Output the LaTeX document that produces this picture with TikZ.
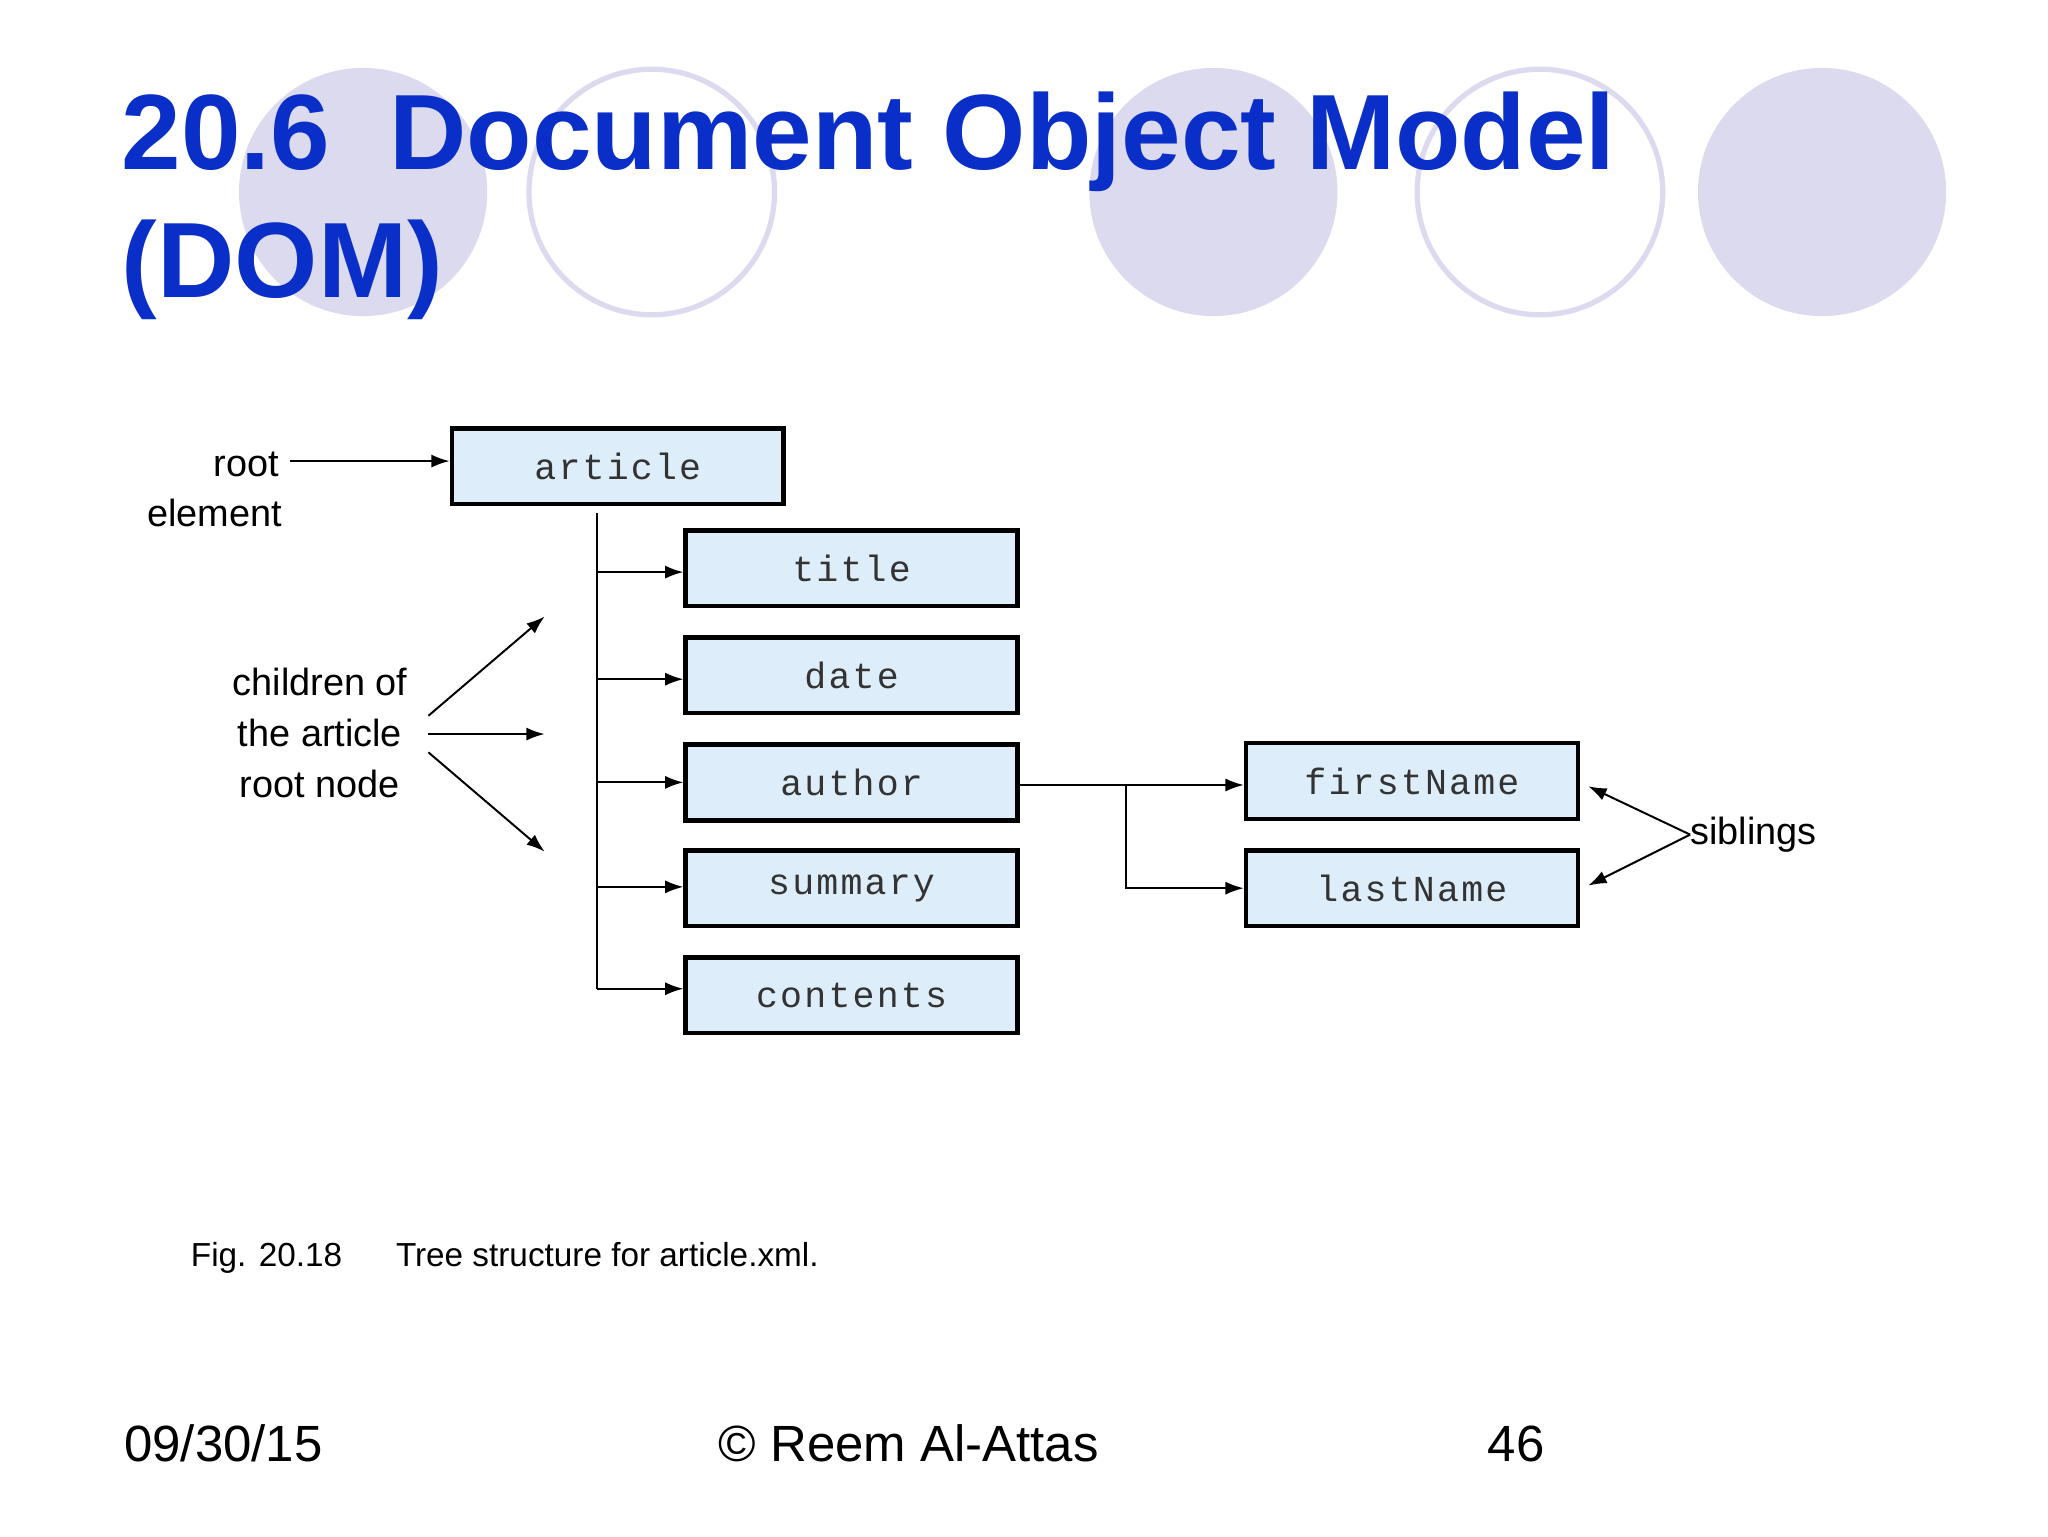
\documentclass[tikz,border=0pt]{standalone}
\usepackage{fontspec}
\setmainfont{Liberation Sans}
\setmonofont{Liberation Mono}
\usetikzlibrary{arrows.meta}
\definecolor{lav}{HTML}{DCDAEE}
\definecolor{ttl}{HTML}{0A2FC8}
\definecolor{boxfill}{HTML}{DDEEFA}
\tikzset{
  tbox/.style={draw=black,line width=3.5pt,fill=boxfill,minimum width=254pt,minimum height=58pt,inner sep=0pt,text=black!80,font=\fontsize{28}{30}\selectfont\ttfamily\addfontfeatures{LetterSpace=6}},
  arr/.style={line width=1.5pt,-{Latex[length=14pt,width=10pt]}},
  ln/.style={line width=1.5pt},
  lbl/.style={font=\fontsize{29}{39}\selectfont,inner sep=0pt}
}
\begin{document}
\begin{tikzpicture}[x=1pt,y=-1pt]
\useasboundingbox[fill=white] (0,0) rectangle (1568,1176);
\fill[lav] (278,147) circle (95);
\draw[lav,line width=4pt] (499,147) circle (94);
\fill[lav] (929,147) circle (95);
\draw[lav,line width=4pt] (1179,147) circle (94);
\fill[lav] (1395,147) circle (95);
\node[anchor=base west,inner sep=0pt,text=ttl,font=\fontsize{82}{90}\selectfont\bfseries] (t1) at (93,130) {20.6\ \ Document Object Model};
\node[anchor=base west,inner sep=0pt,text=ttl,font=\fontsize{82}{90}\selectfont\bfseries] (t2) at (93,228) {(DOM)};
\node[tbox] (article) at (473,357) {article};
\node[tbox] (title) at (652,435) {title};
\node[tbox] (date) at (652,517) {date};
\node[tbox] (author) at (652,599) {author};
\node[tbox] (summary) at (652,680) {summary};
\node[tbox] (contents) at (652,762) {contents};
\node[tbox] (first) at (1081,598) {firstName};
\node[tbox] (last) at (1081,680) {lastName};
\coordinate (top) at (457,393);
\coordinate (bot) at (457,757);
\draw[ln] (top) -- (bot);
\foreach \n/\y in {title/438,date/520,author/599,summary/679} \draw[arr] (457,\y) -- (\n.west|-0,\y);
\draw[arr] (bot) -- (contents.west|-bot);
\coordinate (br) at (862,601);
\draw[arr] (author.east|-br) -- (first.west|-br);
\draw[arr] (br) |- (last.west);
\node[lbl,anchor=base east] (root) at (214,365) {root};
\node[lbl,anchor=base east] (elem) at (216,403) {element};
\draw[arr] (222,353) -- (article.west|-0,353);
\node[lbl,align=center,anchor=north] (ch) at (245,511) {children of\\the article\\root node};
\coordinate (c1) at (417,472);\coordinate (c2) at (417,562);\coordinate (c3) at (417,652);
\draw[arr] (328,548) -- (c1);
\draw[arr] (328,562) -- (c2);
\draw[arr] (328,576) -- (c3);
\node[lbl,anchor=west] (sib) at (1294,639) {siblings};
\coordinate (s1) at (1216,602);\coordinate (s2) at (1216,678);
\draw[arr] (sib.west) -- (s1);
\draw[arr] (sib.west) -- (s2);
\node[anchor=base west,inner sep=0pt,font=\fontsize{25.5}{30}\selectfont] (fig) at (146,970) {Fig. 20.18};
\node[anchor=base west,inner sep=0pt,font=\fontsize{25.5}{30}\selectfont] (cap) at (303,970) {Tree structure for article.xml.};
\node[anchor=base west,inner sep=0pt,font=\fontsize{39}{44}\selectfont] (d) at (95,1119) {09/30/15};
\node[anchor=base west,inner sep=0pt,font=\fontsize{39}{44}\selectfont] (c) at (550,1119) {© Reem Al-Attas};
\node[anchor=base west,inner sep=0pt,font=\fontsize{39}{44}\selectfont] (p) at (1139,1119) {46};
\end{tikzpicture}
\end{document}
